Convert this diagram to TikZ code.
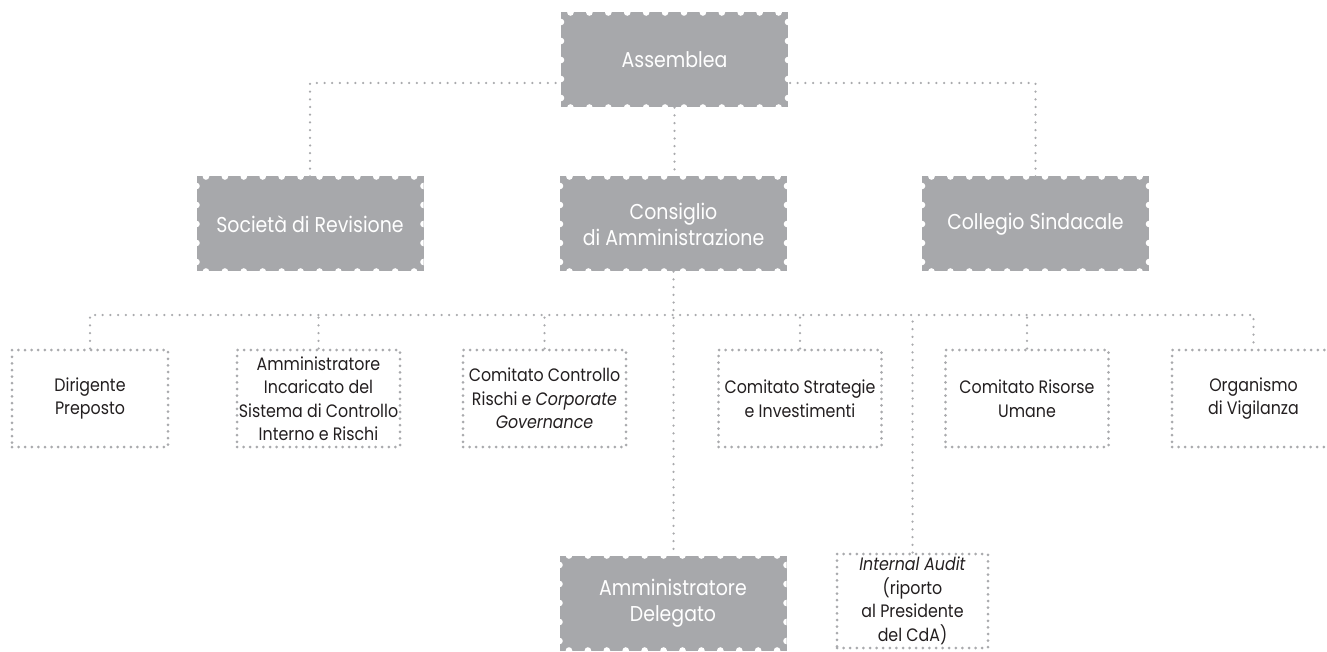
\documentclass[tikz,border=0pt]{standalone}
\usepackage{fontspec}
\setmainfont{Poppins}[FakeStretch=0.88]
\usetikzlibrary{calc}
\definecolor{stampgray}{HTML}{A7A8AB}
\definecolor{dotgray}{HTML}{A9AAAD}
\definecolor{textblack}{HTML}{231F20}
\tikzset{
  gbox/.style={fill=stampgray, minimum width=227pt, minimum height=95pt, inner sep=0pt,
    text=white, align=center, font=\fontsize{21.5}{26}\selectfont,
    path picture={
      \foreach \i in {0,...,11}{
        \fill[white] ([shift={({9.46+18.92*\i},0)}]path picture bounding box.north west) circle (3.3pt);
        \fill[white] ([shift={({9.46+18.92*\i},0)}]path picture bounding box.south west) circle (3.3pt);
      }
      \foreach \i in {0,...,4}{
        \fill[white] ([shift={(0,{9.5+19*\i})}]path picture bounding box.north west) circle (3.3pt);
        \fill[white] ([shift={(0,{9.5+19*\i})}]path picture bounding box.north east) circle (3.3pt);
      }
    }},
  wbox/.style={draw=dotgray, line width=3pt, line cap=round, dash pattern=on 0pt off 6.6pt,
    minimum width=163pt, minimum height=97pt, inner sep=0pt, align=center,
    text=textblack, font=\fontsize{18}{23.5}\selectfont},
  conn/.style={draw=dotgray, line width=2.5pt, line cap=round, dash pattern=on 0pt off 7.7pt}
}
\begin{document}
\begin{tikzpicture}[x=1pt,y=-1pt]
\useasboundingbox (0,0) rectangle (1327,652);
% gray stamp boxes
\node[gbox] (ass) at (674.5,60) {Assemblea};
\node[gbox] (soc) at (310,224) {Società di Revisione};
\node[gbox] (cons) at (673.5,224) {Consiglio\\di Amministrazione};
\node[gbox] (col) at (1035.5,224) {Collegio Sindacale};
\node[gbox] (ad) at (673,603) {Amministratore\\Delegato};
% dotted boxes
\node[wbox, minimum width=156pt] (dir) at (90,398.5) {Dirigente\\Preposto};
\node[wbox] (ai) at (318.5,398.5) {Amministratore\\Incaricato del\\Sistema di Controllo\\Interno e Rischi};
\node[wbox] (ccr) at (544.5,398.5) {Comitato Controllo\\Rischi e \textit{Corporate}\\\textit{Governance}};
\node[wbox] (csi) at (800,398.5) {Comitato Strategie\\e Investimenti};
\node[wbox] (cru) at (1027,398.5) {Comitato Risorse\\Umane};
\node[wbox] (odv) at (1253.5,398.5) {Organismo\\di Vigilanza};
\node[wbox, minimum width=151pt, minimum height=94pt] (ia) at (912.5,601) {\textit{Internal Audit}\\(riporto\\al Presidente\\del CdA)};
% connectors
\coordinate (bus) at (673,315);
\draw[conn] (soc.north) |- ([yshift=-23pt]ass.west);
\draw[conn] (col.north) |- ([yshift=-23pt]ass.east);
\draw[conn] (ass.south) -- (ass.south |- cons.north);
\draw[conn] (cons.south) -- (cons.south |- ad.north);
\draw[conn] (dir.north) -- (dir.north |- bus) -- (odv.north |- bus) -- (odv.north);
\draw[conn] (ai.north) -- (ai.north |- bus);
\draw[conn] (ccr.north) -- (ccr.north |- bus);
\draw[conn] (csi.north) -- (csi.north |- bus);
\draw[conn] (cru.north) -- (cru.north |- bus);
\draw[conn] (ia.north) -- (ia.north |- bus);
\end{tikzpicture}
\end{document}
